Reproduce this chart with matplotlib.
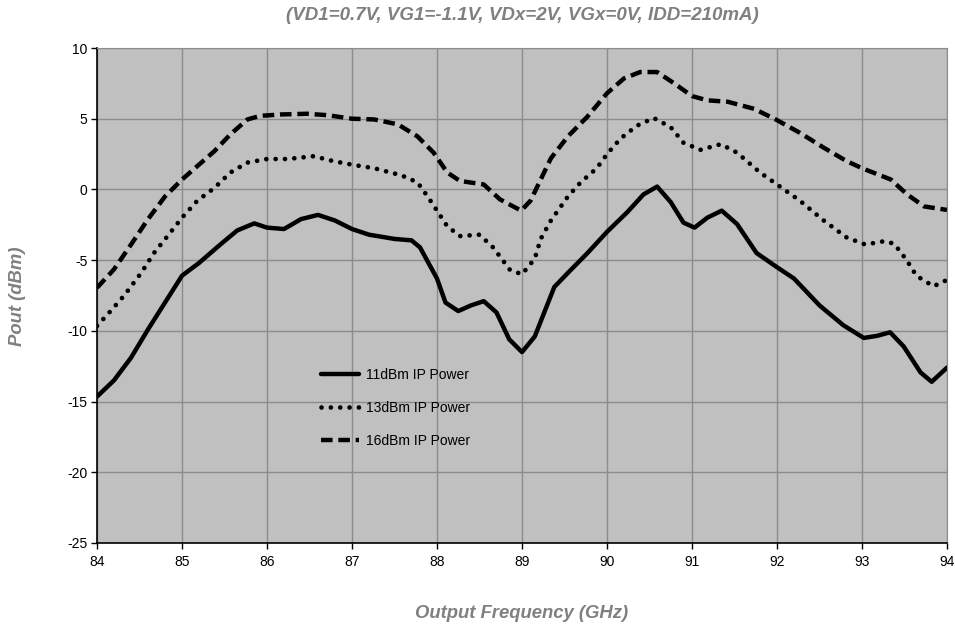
import numpy as np
import matplotlib
matplotlib.use("Agg")
import matplotlib.pyplot as plt

plt.rcParams['font.family'] = ['Liberation Sans', 'DejaVu Sans']
plt.rcParams['axes.unicode_minus'] = False

# 11dBm IP Power
f11 = [84.0, 84.2, 84.4, 84.6, 84.8, 85.0, 85.2, 85.45, 85.65, 85.85, 86.0, 86.2, 86.4,
       86.6, 86.8, 87.0, 87.2, 87.5, 87.7, 87.8, 88.0, 88.1, 88.25, 88.4, 88.55, 88.7,
       88.85, 89.0, 89.15, 89.38, 89.54, 89.77, 90.0, 90.24, 90.43, 90.59, 90.75, 90.9,
       91.03, 91.18, 91.35, 91.53, 91.76, 92.0, 92.2, 92.5, 92.78, 93.02, 93.18, 93.33,
       93.49, 93.69, 93.82, 94.0]
p11 = [-14.65, -13.5, -11.9, -9.9, -8.0, -6.1, -5.2, -3.9, -2.9, -2.4, -2.7, -2.8, -2.1,
       -1.8, -2.2, -2.8, -3.2, -3.5, -3.6, -4.1, -6.3, -8.0, -8.6, -8.2, -7.9, -8.7,
       -10.6, -11.5, -10.4, -6.9, -5.9, -4.5, -3.0, -1.6, -0.35, 0.2, -0.9, -2.35,
       -2.7, -2.0, -1.5, -2.45, -4.5, -5.5, -6.3, -8.2, -9.6, -10.5, -10.35, -10.1,
       -11.1, -12.95, -13.6, -12.6]

# 13dBm IP Power
f13 = [84.0, 84.16, 84.32, 84.52, 84.67, 84.83, 85.0, 85.18, 85.38, 85.57, 85.77, 86.0,
       86.24, 86.55, 86.78, 87.0, 87.26, 87.58, 87.77, 87.89, 88.0, 88.12, 88.27, 88.5,
       88.66, 88.86, 89.0, 89.15, 89.22, 89.34, 89.54, 89.69, 89.88, 90.0, 90.16, 90.35,
       90.55, 90.75, 90.9, 91.1, 91.34, 91.53, 91.8, 92.0, 92.27, 92.55, 92.82, 93.04,
       93.27, 93.38, 93.52, 93.64, 93.84, 94.0]
p13 = [-9.65, -8.6, -7.5, -5.9, -4.5, -3.3, -2.0, -0.8, 0.1, 1.2, 1.9, 2.15,
       2.15, 2.35, 2.0, 1.75, 1.5, 1.0, 0.5, -0.5, -1.5, -2.6, -3.3, -3.2,
       -4.1, -5.7, -6.0, -4.9, -3.5, -2.2, -0.5, 0.5, 1.5, 2.5, 3.6, 4.5,
       5.05, 4.4, 3.3, 2.8, 3.2, 2.6, 1.2, 0.35, -0.8, -2.2, -3.4, -3.9,
       -3.65, -3.85, -4.95, -6.1, -6.85, -6.4]

# 16dBm IP Power
f16 = [84.0, 84.2, 84.4, 84.6, 84.8, 85.0, 85.18, 85.38, 85.57, 85.77, 85.92, 86.16,
       86.47, 86.71, 87.0, 87.26, 87.54, 87.77, 87.96, 88.12, 88.27, 88.55, 88.74, 88.99,
       89.1, 89.22, 89.34, 89.54, 89.77, 90.0, 90.2, 90.39, 90.59, 90.79, 91.0, 91.18,
       91.42, 91.73, 92.0, 92.27, 92.55, 92.82, 93.0, 93.34, 93.53, 93.73, 94.0]
p16 = [-6.95, -5.65, -3.9, -2.1, -0.5, 0.7, 1.65, 2.7, 3.9, 4.95, 5.2, 5.3,
       5.35, 5.25, 5.0, 4.95, 4.6, 3.75, 2.6, 1.2, 0.6, 0.35, -0.7, -1.5,
       -0.8, 0.7, 2.2, 3.75, 5.15, 6.8, 7.85, 8.3, 8.3, 7.5, 6.6, 6.3,
       6.2, 5.7, 4.9, 4.0, 2.95, 2.0, 1.5, 0.7, -0.35, -1.2, -1.45]

xticks = list(range(84, 95))
yticks = list(range(-25, 11, 5))

fig = plt.figure(figsize=(9.55, 6.28), dpi=100)
ax = fig.add_axes([97/955, 1-543/628, 850/955, 495/628])
ax.set_facecolor('#c0c0c0')

ax.plot(f11, p11, color='black', lw=3.2, solid_capstyle='round', solid_joinstyle='round',
        label='11dBm IP Power')
ax.plot(f13, p13, color='black', lw=3.4, linestyle=(0, (0.01, 1.97)),
        dash_capstyle='round', label='13dBm IP Power')
ax.plot(f16, p16, color='black', lw=3.2, linestyle=(0, (2.6, 1.3)),
        dash_capstyle='butt', label='16dBm IP Power')

ax.set_xlim(84, 94)
ax.set_ylim(-25, 10)
ax.set_xticks(xticks)
ax.set_yticks(yticks)
ax.tick_params(labelsize=10, length=4, width=1, direction='out', color='black')
ax.tick_params(axis='x', pad=5)
ax.tick_params(axis='y', pad=3)
ax.grid(True, color='#8c8c8c', lw=1.0)
ax.set_axisbelow(True)
for s in ['top', 'right']:
    ax.spines[s].set_color('#8c8c8c')
for s in ['left', 'bottom']:
    ax.spines[s].set_color('black')
    ax.spines[s].set_linewidth(1.2)

ax.legend(loc='center left', bbox_to_anchor=(0.2635, 0.273), frameon=False,
          fontsize=10, handlelength=2.74, labelspacing=1.38, handletextpad=0.5,
          borderpad=0, borderaxespad=0)

tstyle = dict(color='#808080', fontweight='bold', fontstyle='italic')
fig.text(522/955, 1-15/628, '(VD1=0.7V, VG1=-1.1V, VDx=2V, VGx=0V, IDD=210mA)',
         ha='center', va='center', fontsize=13.5, **tstyle)
fig.text(522/955, 1-614/628, 'Output Frequency (GHz)', ha='center', va='center',
         fontsize=13.3, **tstyle)
fig.text(18/955, 1-296/628, 'Pout (dBm)', ha='center', va='center', rotation=90,
         fontsize=13.3, **tstyle)

fig.savefig('out.png', dpi=100)
